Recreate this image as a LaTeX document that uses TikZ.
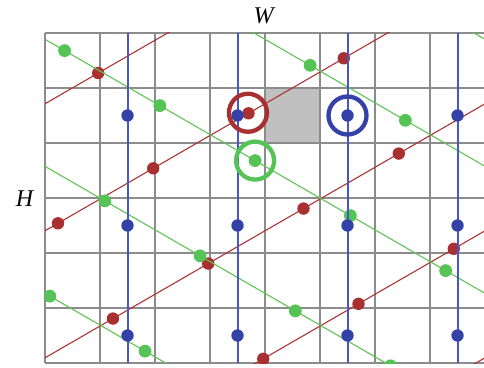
\documentclass[tikz,border=0pt]{standalone}
\usepackage{fontspec}
\setmainfont{Liberation Serif}
\definecolor{gridgray}{RGB}{140,140,140}
\definecolor{cellgray}{RGB}{192,192,192}
\definecolor{blueln}{RGB}{72,86,200}
\definecolor{bluedt}{RGB}{52,66,168}
\definecolor{redln}{RGB}{172,52,52}
\definecolor{reddt}{RGB}{168,48,48}
\definecolor{greenln}{RGB}{95,195,85}
\definecolor{greendt}{RGB}{85,195,85}
\tikzset{
  gridline/.style={draw=gridgray, line width=1.2pt},
  cellfill/.style={fill=cellgray},
  redline/.style={draw=redln, line width=1.1pt},
  greenline/.style={draw=greenln, line width=1.1pt},
  blueline/.style={draw=blueln, line width=2pt},
  reddot/.style={fill=reddt},
  greendot/.style={fill=greendt},
  bluedot/.style={fill=bluedt},
  ring/.style={line width=4.3pt},
  lab/.style={font=\fontsize{24}{28}\selectfont\itshape, inner sep=0pt}
}
\begin{document}
\begin{tikzpicture}[x=55pt,y=55pt]
\useasboundingbox (-0.8182,-0.0727) rectangle (7.9818,6.6);
\fill[cellfill] (4,4) rectangle (5,5);
\draw[gridline, step=1] (0,0) grid (8,6);
\begin{scope}
\clip (0,0) rectangle (8,6);
% red lattice
\foreach \j in {-5,...,5} {
  \draw[redline] ({3.70+\j-6*sqrt(3)},{4.54-\j*sqrt(3)-6}) -- ++({12*sqrt(3)},12);
}
\foreach \i in {-5,...,5} {
  \foreach \j in {-5,...,5} {
    \fill[reddot] ({3.70+\i*sqrt(3)+\j},{4.54+\i-\j*sqrt(3)}) circle[radius=6.2pt];
  }
}
% green lattice
\foreach \j in {-5,...,5} {
  \draw[greenline] ({3.82+\j-6*sqrt(3)},{3.68+\j*sqrt(3)+6}) -- ++({12*sqrt(3)},-12);
}
\foreach \i in {-5,...,5} {
  \foreach \j in {-5,...,5} {
    \fill[greendot] ({3.82+\i*sqrt(3)+\j},{3.68-\i+\j*sqrt(3)}) circle[radius=6.4pt];
  }
}
% blue lattice
\foreach \i in {0,...,3} {
  \draw[blueline] ({1.5+2*\i},0) -- ({1.5+2*\i},6);
  \foreach \j in {0,...,2} {
    \fill[bluedt] ({1.5+2*\i},{0.5+2*\j}) circle[radius=6.2pt];
  }
}
\end{scope}
% highlight rings
\draw[ring, draw=reddt] (3.69,4.55) circle[radius=19pt];
\draw[ring, draw=bluedt] (5.5,4.5) circle[radius=19pt];
\draw[ring, draw=greendt] (3.82,3.68) circle[radius=19pt];
% labels
\node[lab] (W) at (3.973,6.318) {W};
\node[lab] (H) at (-0.373,2.98) {H};
\end{tikzpicture}
\end{document}
